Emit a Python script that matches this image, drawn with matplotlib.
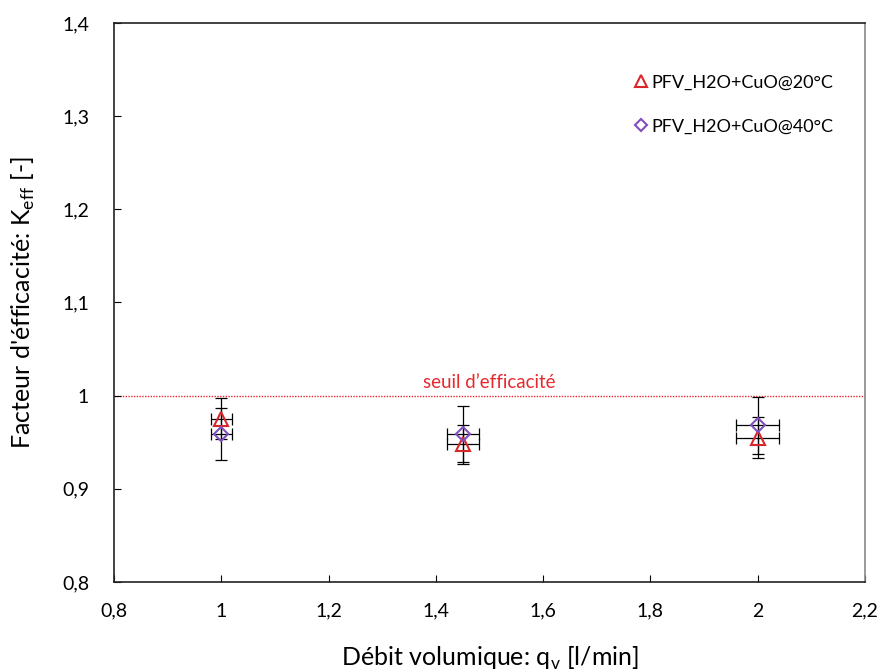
import matplotlib
matplotlib.use("Agg")
import matplotlib.pyplot as plt
from matplotlib.ticker import FuncFormatter

plt.rcParams['font.family'] = ['Lato', 'DejaVu Sans']

# Data
qv = [1.0, 1.45, 2.0]
qv_err = [0.02, 0.03, 0.04]
keff_20 = [0.975, 0.948, 0.955]
keff_20_err = [0.022, 0.021, 0.022]
keff_40 = [0.959, 0.959, 0.968]
keff_40_err = [0.028, 0.030, 0.031]
label_20 = "PFV_H2O+CuO@20°C"
label_40 = "PFV_H2O+CuO@40°C"
threshold = 1.0
threshold_label = "seuil d\u2019efficacité"

fig = plt.figure(figsize=(8.8, 6.71), dpi=100)
ax = fig.add_axes([114/880, 1-582/671, (865-114)/880, (582-23)/671])

eb_kw = dict(fmt='none', ecolor='black', elinewidth=0.9, capsize=4, capthick=0.9, zorder=2)
ax.errorbar(qv, keff_20, yerr=keff_20_err, xerr=qv_err, **eb_kw)
ax.errorbar(qv, keff_40, yerr=keff_40_err, xerr=qv_err, **eb_kw)

ax.plot(qv, keff_20, linestyle='none', marker='^', markersize=10, markerfacecolor='none',
        markeredgecolor='#d9262b', markeredgewidth=1.5, label=label_20, zorder=3)
ax.plot(qv, keff_40, linestyle='none', marker='D', markersize=7.5, markerfacecolor='none',
        markeredgecolor='#7f4fbf', markeredgewidth=1.5, label=label_40, zorder=3)

ax.axhline(threshold, color='#e8282e', linestyle=(0, (1, 1)), linewidth=1.0, zorder=1)
ax.text(1.5, threshold + 0.005, threshold_label, color='#e8282e', fontsize=13.5,
        ha='center', va='bottom')

ax.set_xlim(0.8, 2.2)
ax.set_ylim(0.8, 1.4)
ax.set_xticks([0.8, 1.0, 1.2, 1.4, 1.6, 1.8, 2.0, 2.2])
ax.set_yticks([0.8, 0.9, 1.0, 1.1, 1.2, 1.3, 1.4])
fmt = FuncFormatter(lambda v, p: ('%g' % round(v, 2)).replace('.', ','))
ax.xaxis.set_major_formatter(fmt)
ax.yaxis.set_major_formatter(fmt)
ax.tick_params(direction='in', labelsize=14, length=5, width=0.8)
ax.tick_params(axis='y', pad=18)
ax.tick_params(axis='x', pad=15)

for s in ['top', 'left', 'bottom']:
    ax.spines[s].set_color('#222222')
    ax.spines[s].set_linewidth(1.2)
ax.spines['right'].set_color('#888888')
ax.spines['right'].set_linewidth(1.2)

ax.set_xlabel(r"Débit volumique: q$_\mathregular{v}$ [l/min]", fontsize=18, labelpad=18)
ax.set_ylabel(r"Facteur d'éfficacité: K$_\mathregular{eff}$ [-]", fontsize=18, labelpad=18)

leg = ax.legend(loc='upper right', bbox_to_anchor=(0.982, 0.94), frameon=False, fontsize=13,
          handletextpad=0.0, handlelength=1.1, labelspacing=1.55, borderpad=0.5,
          markerscale=0.8)

fig.savefig("out.png", dpi=100)
